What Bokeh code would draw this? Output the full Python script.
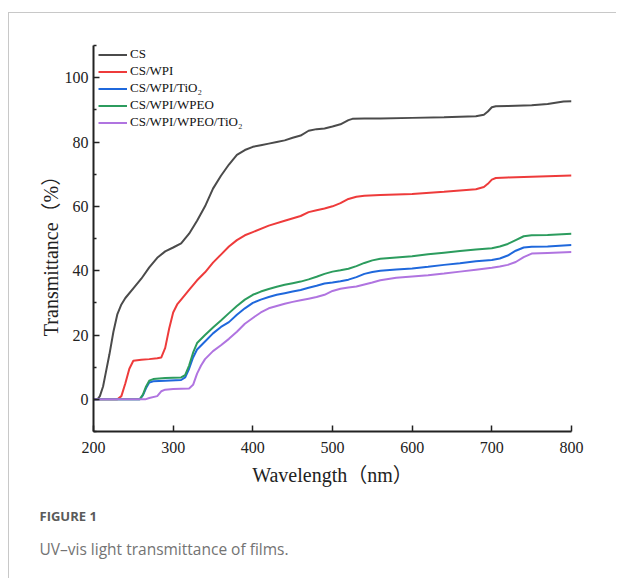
from bokeh.plotting import figure
from bokeh.models import FixedTicker, Legend, LegendItem, Title, Range1d
from bokeh.embed import file_html
from bokeh.resources import INLINE

# ---------------- data ----------------
wl_cs = [200, 205, 208, 212, 216, 220, 225, 230, 235, 240, 250, 260, 270, 280, 290, 300, 310, 320,
         330, 340, 350, 360, 370, 380, 390, 400, 410, 420, 430, 440, 450, 460, 470, 480, 490, 500,
         510, 520, 525, 540, 560, 600, 640, 680, 690, 695, 700, 705, 720, 750, 770, 780, 790, 800]
t_cs = [0, 0, 1, 4, 9, 14, 21, 26.5, 29.5, 31.5, 34.5, 37.5, 41, 44, 46, 47.2, 48.5, 51.5,
        55.5, 60, 65.5, 69.5, 73, 76, 77.5, 78.5, 79, 79.5, 80, 80.5, 81.3, 82, 83.5, 84, 84.2, 84.8,
        85.5, 86.8, 87.2, 87.3, 87.3, 87.5, 87.7, 88, 88.5, 89.5, 90.8, 91.1, 91.2, 91.4, 91.8, 92.2, 92.6, 92.7]

wl_wpi = [200, 230, 235, 240, 245, 250, 260, 270, 280, 285, 290, 295, 300, 305, 310, 320, 330, 340,
          350, 360, 370, 380, 390, 400, 420, 440, 460, 470, 480, 490, 500, 510, 520, 530, 540, 560,
          600, 640, 680, 690, 695, 700, 705, 720, 760, 800]
t_wpi = [0, 0, 1, 5, 9.5, 12, 12.3, 12.5, 12.8, 13, 16, 22, 27, 29.5, 31, 34, 37, 39.5,
         42.5, 45, 47.5, 49.5, 51, 52, 54, 55.5, 57, 58.2, 58.8, 59.3, 60, 61, 62.3, 63, 63.3, 63.5,
         63.8, 64.5, 65.3, 66, 67, 68.3, 68.8, 69, 69.3, 69.6]

wl_tio2 = [200, 258, 262, 266, 270, 275, 290, 310, 315, 320, 325, 330, 340, 350, 360, 370, 380, 390,
           400, 410, 420, 430, 440, 450, 460, 470, 480, 490, 500, 510, 520, 530, 540, 550, 560, 580,
           600, 620, 640, 660, 680, 700, 710, 720, 730, 740, 750, 770, 800]
t_tio2 = [0, 0, 1.2, 3.5, 5.2, 5.6, 5.8, 6, 6.8, 9.5, 13, 15.5, 18, 20.5, 22.5, 24, 26.3, 28.3,
          30, 31, 31.8, 32.5, 33, 33.5, 34, 34.7, 35.3, 36, 36.3, 36.7, 37.2, 38, 39, 39.6, 40, 40.4,
          40.7, 41.2, 41.8, 42.3, 42.9, 43.3, 43.8, 44.7, 46.2, 47.2, 47.4, 47.5, 48]

wl_wpeo = [200, 258, 262, 266, 270, 275, 290, 310, 315, 320, 325, 330, 340, 350, 360, 370, 380, 390,
           400, 410, 420, 430, 440, 450, 460, 470, 480, 490, 500, 510, 520, 530, 540, 550, 560, 580,
           600, 620, 640, 660, 680, 700, 710, 720, 730, 740, 750, 770, 800]
t_wpeo = [0, 0, 1.5, 4, 5.8, 6.3, 6.6, 6.8, 7.5, 10.5, 14.5, 17.5, 20, 22.3, 24.5, 26.8, 29, 31,
          32.5, 33.5, 34.3, 35, 35.6, 36.1, 36.6, 37.3, 38.1, 39, 39.7, 40.1, 40.6, 41.4, 42.4, 43.2, 43.7, 44.1,
          44.5, 45.1, 45.6, 46.1, 46.6, 47, 47.5, 48.3, 49.5, 50.7, 51, 51.1, 51.5]

wl_wpeo_tio2 = [200, 265, 270, 280, 285, 290, 300, 320, 325, 330, 335, 340, 350, 360, 370, 380, 390,
                400, 410, 420, 430, 440, 450, 460, 470, 480, 490, 500, 510, 520, 530, 540, 550, 560,
                580, 600, 620, 640, 660, 680, 700, 710, 720, 730, 740, 750, 770, 800]
t_wpeo_tio2 = [0, 0, 0.4, 1, 2.5, 3, 3.2, 3.4, 4.5, 8, 10.5, 12.5, 15, 16.8, 18.8, 21, 23.5,
               25.3, 27, 28.3, 29, 29.7, 30.3, 30.8, 31.3, 31.8, 32.5, 33.7, 34.4, 34.8, 35.1, 35.7, 36.3, 37,
               37.8, 38.2, 38.6, 39.1, 39.7, 40.3, 40.9, 41.3, 41.8, 42.7, 44.2, 45.3, 45.5, 45.8]

series_names = ["CS", "CS/WPI", "CS/WPI/TiO₂", "CS/WPI/WPEO", "CS/WPI/WPEO/TiO₂"]
series_colors = ["#4b4b4b", "#ee3b3b", "#1f68dc", "#2c9c5e", "#b074e0"]
series_x = [wl_cs, wl_wpi, wl_tio2, wl_wpeo, wl_wpeo_tio2]
series_y = [t_cs, t_wpi, t_tio2, t_wpeo, t_wpeo_tio2]

x_ticks = [200, 300, 400, 500, 600, 700, 800]
y_ticks = [0, 20, 40, 60, 80, 100]
y_minor = [-10, 10, 30, 50, 70, 90, 110]

x_label = "Wavelength（nm）"
y_label = "Transmittance（%）"
caption_head = "FIGURE 1"
caption_text = "UV–vis light transmittance of films."

SERIF = "'Liberation Serif', 'Times New Roman', 'Noto Sans CJK SC', serif"
SANS = "'Open Sans', 'Noto Sans', sans-serif"

# ---------------- figure ----------------
p = figure(frame_width=478, frame_height=386, x_range=Range1d(200, 800), y_range=Range1d(-10, 110),
           output_backend="svg", toolbar_location=None,
           min_border_left=93, min_border_right=45, min_border_top=45, min_border_bottom=147)
p.border_fill_color = None
p.background_fill_color = "white"
p.outline_line_color = None
p.grid.visible = False
p.styles = {
    "background": "linear-gradient(#c8c8c8,#c8c8c8) 8px 12px / 100% 1px no-repeat, "
                  "linear-gradient(#c8c8c8,#c8c8c8) 8px 12px / 1px 100% no-repeat, white"
}

renderers = []
for name, xs, ys, c in zip(series_names, series_x, series_y, series_colors):
    r = p.line(xs, ys, line_color=c, line_width=2)
    renderers.append(r)

for ax in (p.xaxis[0], p.yaxis[0]):
    ax.axis_line_width = 2
    ax.axis_line_color = "#222222"
    ax.major_tick_line_color = "#222222"
    ax.major_tick_line_width = 1.5
    ax.minor_tick_line_color = "#222222"
    ax.minor_tick_line_width = 1.5
    ax.major_tick_in = 6
    ax.major_tick_out = 0
    ax.minor_tick_in = 3
    ax.minor_tick_out = 0
    ax.major_label_text_font = SERIF
    ax.major_label_text_font_size = "16px"
    ax.major_label_text_color = "#222222"
    ax.axis_label_text_font = SERIF
    ax.axis_label_text_font_size = "20px"
    ax.axis_label_text_font_style = "normal"
    ax.axis_label_text_color = "#222222"

p.xaxis.ticker = FixedTicker(ticks=x_ticks, minor_ticks=[])
p.yaxis.ticker = FixedTicker(ticks=y_ticks, minor_ticks=y_minor)
p.xaxis.axis_label = x_label
p.yaxis.axis_label = y_label + "\u00a0" * 5
p.xaxis.major_label_standoff = 10
p.yaxis.major_label_standoff = 5
p.xaxis.axis_label_standoff = 8
p.yaxis.axis_label_standoff = 0

legend = Legend(items=[LegendItem(label=n, renderers=[r]) for n, r in zip(series_names, renderers)],
                location=(5, 301), orientation="vertical",
                glyph_width=29, glyph_height=15, label_height=15, spacing=1,
                label_standoff=3, padding=0, margin=0,
                label_text_font=SERIF, label_text_font_size="13px", label_text_color="#111111",
                border_line_alpha=0, background_fill_alpha=0)
p.add_layout(legend, "center")

p.add_layout(Title(text=caption_head, align="left", offset=-54, standoff=33,
                   text_font=SANS, text_font_size="13px", text_font_style="bold",
                   text_color="#5a5a5a"), "below")
p.add_layout(Title(text=caption_text, align="left", offset=-54, standoff=-12,
                   text_font=SANS, text_font_size="15.5px", text_font_style="normal",
                   text_color="#737373"), "below")

open("out.html", "w").write(file_html(p, INLINE))
